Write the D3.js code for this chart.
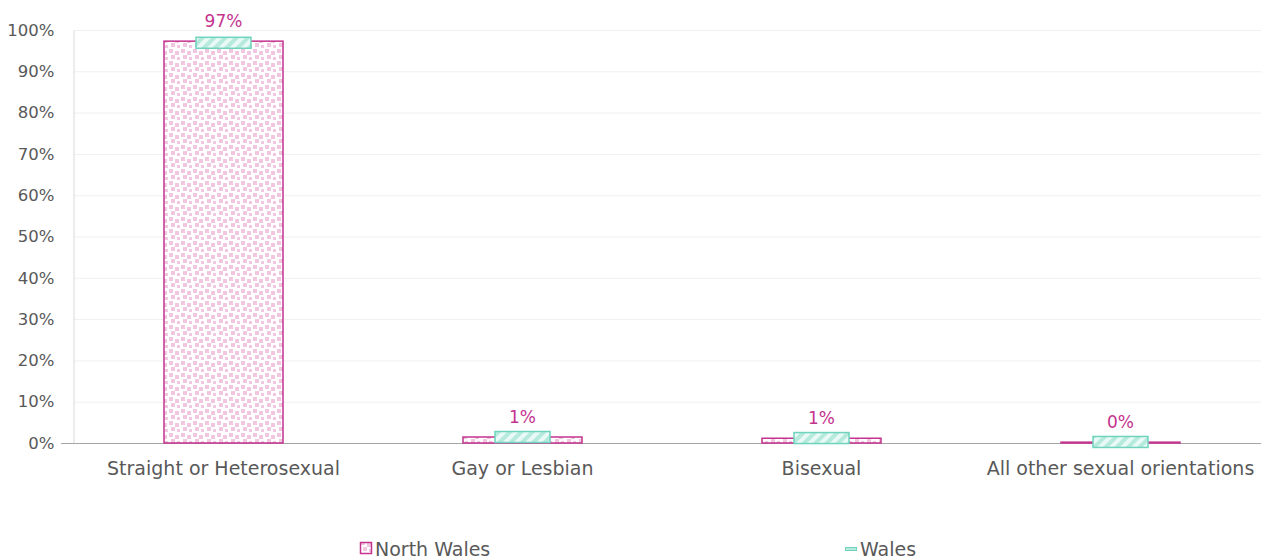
<!DOCTYPE html>
<html>
<head>
<meta charset="utf-8">
<script src="https://cdn.jsdelivr.net/npm/d3@7"></script>
<style>
  body { margin: 0; background: #fff; }
  text { font-family: "DejaVu Sans", sans-serif; }
</style>
</head>
<body>
<div id="chart"></div>
<script>
var categories = ['Straight or Heterosexual', 'Gay or Lesbian', 'Bisexual', 'All other sexual orientations'];
var northWales = [97.3, 1.45, 1.15, 0.2];
var wales = [96.9, 1.45, 1.2, 0.25];
var labels = ['97%', '1%', '1%', '0%'];
var yTicks = [0, 10, 20, 30, 40, 50, 60, 70, 80, 90, 100];

var width = 1261;
var height = 560;
var pink = '#c4338e';
var teal = '#6fd3bd';

var svg = d3.select('#chart')
    .append('svg')
    .attr('width', width)
    .attr('height', height);

var defs = svg.append('defs');

// pink dotted fill
var dots = defs.append('pattern')
    .attr('id', 'dots')
    .attr('patternUnits', 'userSpaceOnUse')
    .attr('width', 12)
    .attr('height', 12);
dots.append('rect').attr('width', 12).attr('height', 12).attr('fill', '#fff');
[[1, 1], [7, 3], [3, 7], [9, 9]].forEach(function(p){
    dots.append('rect')
        .attr('x', p[0]).attr('y', p[1])
        .attr('width', 4).attr('height', 4)
        .attr('fill', '#f1c6e0');
});

// teal hatch fill
var hatch = defs.append('pattern')
    .attr('id', 'hatch')
    .attr('patternUnits', 'userSpaceOnUse')
    .attr('width', 8)
    .attr('height', 8)
    .attr('patternTransform', 'rotate(45)');
hatch.append('rect').attr('width', 8).attr('height', 8).attr('fill', '#e9f9f5');
hatch.append('rect').attr('width', 4).attr('height', 8).attr('fill', '#b5eadc');

var xScale = d3.scaleBand()
    .domain(categories)
    .range([74, 1270]);

var yScale = d3.scaleLinear()
    .domain([0, 100])
    .range([443, 30]);

// gridlines
svg.append('g')
    .selectAll('line')
    .data(yTicks.slice(1))
    .enter()
    .append('line')
    .attr('x1', 74)
    .attr('x2', 1261)
    .attr('y1', d => yScale(d) + 0.5)
    .attr('y2', d => yScale(d) + 0.5)
    .attr('stroke', '#f0f0f0');

// y axis
var yAxis = svg.append('g')
    .attr('transform', 'translate(73.5,0)')
    .call(d3.axisLeft(yScale).tickValues(yTicks).tickSize(0).tickPadding(19).tickFormat(d => d + '%'));
yAxis.select('.domain').attr('stroke', '#d9d9d9');
yAxis.selectAll('text')
    .attr('font-size', 16.5)
    .attr('fill', '#595959')
    .attr('font-family', '"DejaVu Sans", sans-serif');

// x axis
var xAxis = svg.append('g')
    .attr('transform', 'translate(0,443.5)')
    .call(d3.axisBottom(xScale).tickSize(0).tickPadding(18));
xAxis.select('.domain').attr('d', 'M61,0H1261').attr('stroke', '#a6a6a6');
xAxis.selectAll('text')
    .attr('font-size', 19)
    .attr('fill', '#595959')
    .attr('font-family', '"DejaVu Sans", sans-serif');

var barWidth = 119;
var markWidth = 55;
var markHeight = 11;

// North Wales bars
svg.append('g')
    .selectAll('rect')
    .data(northWales)
    .enter()
    .append('rect')
    .attr('x', (d, i) => xScale(categories[i]) + xScale.bandwidth() / 2 - barWidth / 2)
    .attr('y', d => yScale(d))
    .attr('width', barWidth)
    .attr('height', d => 443 - yScale(d))
    .attr('fill', 'url(#dots)')
    .attr('stroke', pink)
    .attr('stroke-width', 1.5);

// Wales markers
svg.append('g')
    .selectAll('rect')
    .data(wales)
    .enter()
    .append('rect')
    .attr('x', (d, i) => xScale(categories[i]) + xScale.bandwidth() / 2 - markWidth / 2)
    .attr('y', d => yScale(d) - markHeight / 2)
    .attr('width', markWidth)
    .attr('height', markHeight)
    .attr('fill', 'url(#hatch)')
    .attr('stroke', teal)
    .attr('stroke-width', 1.5);

// value labels
svg.append('g')
    .selectAll('text')
    .data(northWales)
    .enter()
    .append('text')
    .attr('x', (d, i) => xScale(categories[i]) + xScale.bandwidth() / 2)
    .attr('y', d => yScale(d) - 14)
    .attr('text-anchor', 'middle')
    .attr('font-size', 17)
    .attr('fill', pink)
    .text((d, i) => labels[i]);

// legend
var legend = svg.append('g');
legend.append('rect')
    .attr('x', 360.5).attr('y', 542.5)
    .attr('width', 11).attr('height', 11)
    .attr('fill', 'url(#dots)')
    .attr('stroke', pink)
    .attr('stroke-width', 1.5);
legend.append('text')
    .attr('x', 375).attr('y', 556)
    .attr('font-size', 19)
    .attr('fill', '#595959')
    .text('North Wales');
legend.append('rect')
    .attr('x', 845.5).attr('y', 547.5)
    .attr('width', 11).attr('height', 3)
    .attr('fill', '#b5eadc')
    .attr('stroke', teal)
    .attr('stroke-width', 1);
legend.append('text')
    .attr('x', 860).attr('y', 556)
    .attr('font-size', 19)
    .attr('fill', '#595959')
    .text('Wales');
</script>
</body>
</html>
